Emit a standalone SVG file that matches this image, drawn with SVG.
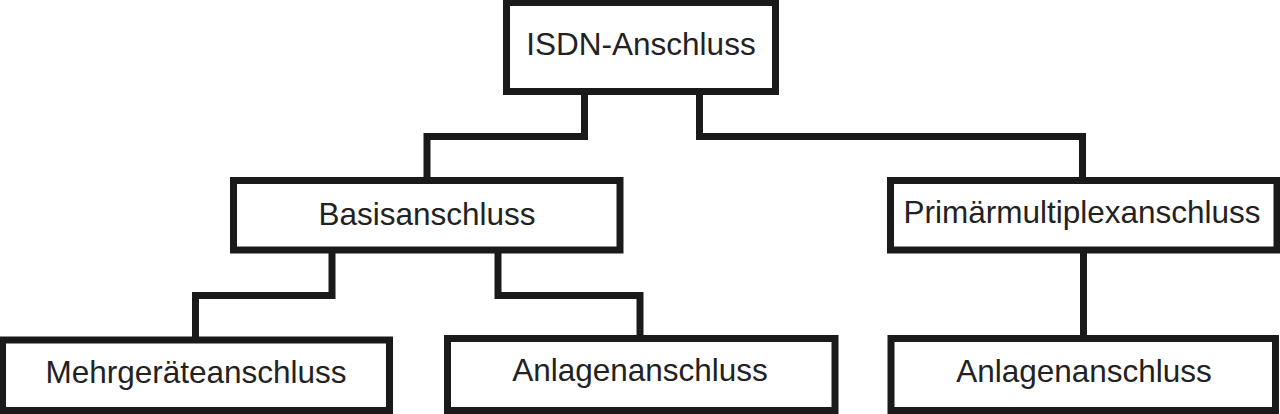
<svg xmlns="http://www.w3.org/2000/svg" width="1280" height="414" viewBox="0 0 1280 414">
<style>
.box{fill:#fff;stroke:#1a1a1a;stroke-width:7}
.con{fill:none;stroke:#1a1a1a;stroke-width:7;stroke-linejoin:miter;stroke-linecap:square}
text{font-family:"Liberation Sans",Arial,sans-serif;font-size:31.5px;fill:#222;text-anchor:middle}
</style>
<rect width="1280" height="414" fill="#fff"/>
<g id="connectors">
<path class="con" d="M584.5 91.5 V136.5 H427 V180.5"/>
<path class="con" d="M699.5 91.5 V136.5 H1082.5 V180.5"/>
<path class="con" d="M332 250 V295.5 H195.5 V339.5"/>
<path class="con" d="M498 250 V295.5 H640 V339"/>
<path class="con" d="M1083.5 250 V339"/>
</g>
<g id="isdn">
<rect class="box" x="506.5" y="2.5" width="269" height="89"/>
<text x="641" y="55">ISDN-Anschluss</text>
</g>
<g id="basis">
<rect class="box" x="233.5" y="180.5" width="386.5" height="69.5"/>
<text x="427" y="225">Basisanschluss</text>
</g>
<g id="primaer">
<rect class="box" x="890.5" y="180.5" width="386.5" height="69.5"/>
<text x="1082" y="223">Primärmultiplexanschluss</text>
</g>
<g id="mehr">
<rect class="box" x="2.5" y="340" width="387" height="70.5"/>
<text x="196" y="383">Mehrgeräteanschluss</text>
</g>
<g id="anlage1">
<rect class="box" x="447.5" y="338.5" width="387.5" height="72"/>
<text x="640" y="381">Anlagenanschluss</text>
</g>
<g id="anlage2">
<rect class="box" x="891" y="338.5" width="384.5" height="72"/>
<text x="1084" y="382">Anlagenanschluss</text>
</g>
</svg>
